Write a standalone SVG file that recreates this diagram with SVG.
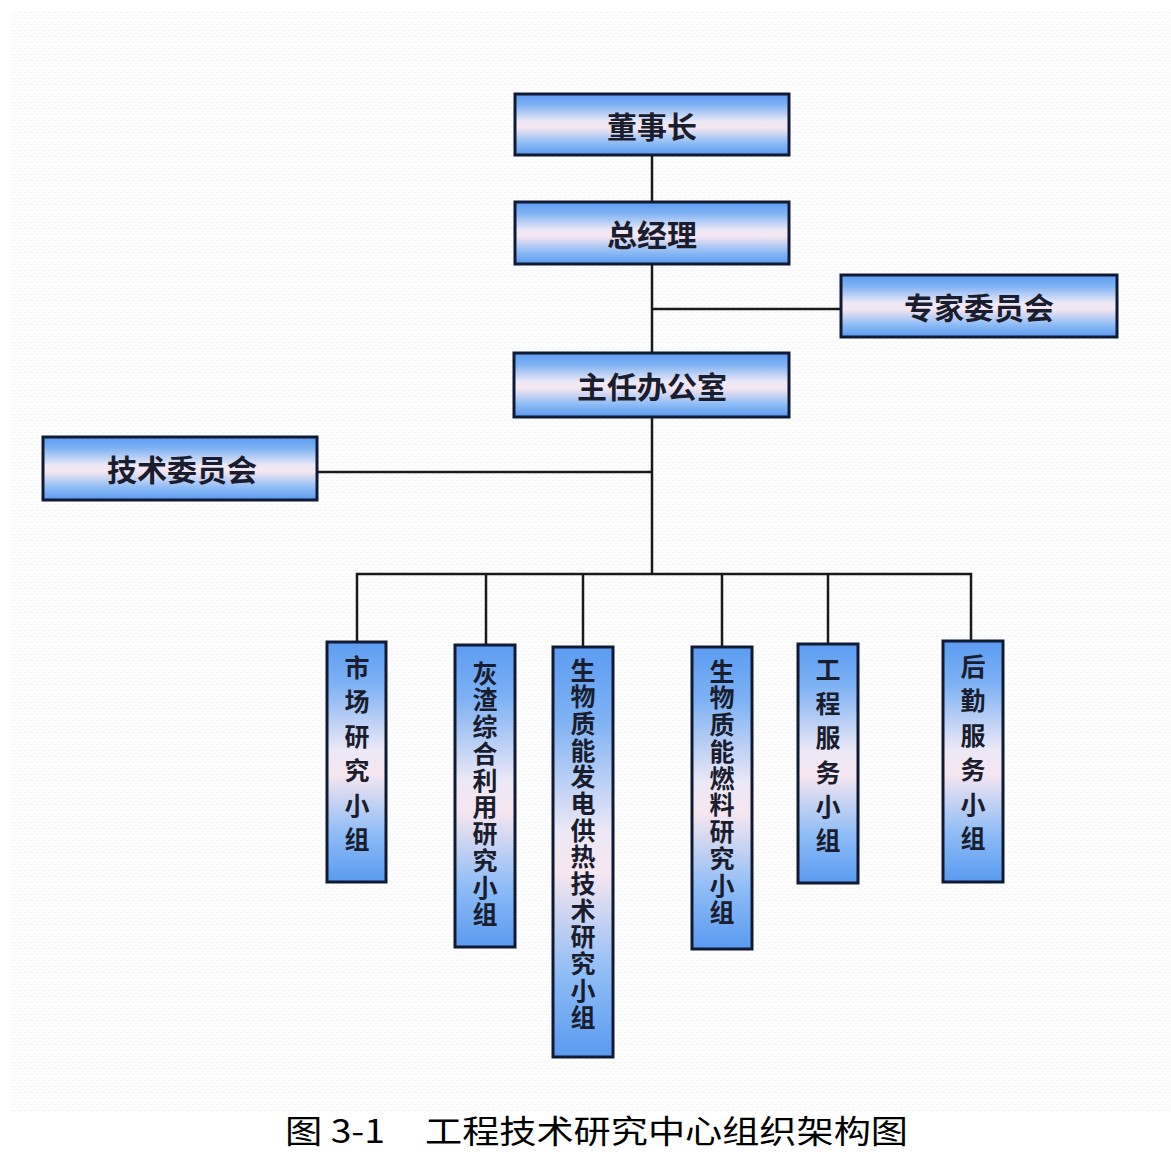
<svg xmlns="http://www.w3.org/2000/svg" width="1171" height="1154" viewBox="0 0 1171 1154">
<defs>
<linearGradient id="gb" x1="0" y1="0" x2="0" y2="1">
<stop offset="0" stop-color="#5c9cf2"/>
<stop offset="0.18" stop-color="#7fb2f4"/>
<stop offset="0.45" stop-color="#ece8f6"/>
<stop offset="0.55" stop-color="#f6e6f0"/>
<stop offset="0.8" stop-color="#8ebcf6"/>
<stop offset="1" stop-color="#5a9af0"/>
</linearGradient>
<pattern id="bg" width="6" height="6" patternUnits="userSpaceOnUse">
<rect width="6" height="6" fill="#fdfdfd"/>
<rect x="0" y="0" width="3" height="1" fill="#f3f3f5"/>
<rect x="3" y="3" width="2" height="1" fill="#f6f6f8"/>
</pattern>
<style>
.box{fill:url(#gb);stroke:#111a33;stroke-width:3}
.lbl{font-family:"Noto Sans CJK SC","Noto Sans",sans-serif;font-weight:700;font-size:30px;fill:#1a1d2e;text-anchor:middle;dominant-baseline:central}
.vl{font-family:"Noto Sans CJK SC","Noto Sans",sans-serif;font-weight:700;font-size:25px;fill:#1a1d2e;writing-mode:vertical-rl;text-orientation:upright;dominant-baseline:central}
.con{stroke:#1a1a1a;stroke-width:2.5;fill:none}
.cap{font-family:"Noto Sans CJK SC","Noto Sans",sans-serif;font-size:32px;fill:#000}
</style>
</defs>
<rect width="1171" height="1154" fill="#ffffff"/>
<rect x="10" y="12" width="1161" height="1100" fill="url(#bg)"/>
<g id="connectors">
<line class="con" x1="652" y1="155" x2="652" y2="202"/>
<line class="con" x1="652" y1="264" x2="652" y2="353"/>
<line class="con" x1="652" y1="309" x2="841" y2="309"/>
<line class="con" x1="652" y1="417" x2="652" y2="574"/>
<line class="con" x1="317" y1="472" x2="652" y2="472"/>
<polyline class="con" points="357,642 357,574 971,574 971,641"/>
<line class="con" x1="486" y1="574" x2="486" y2="645"/>
<line class="con" x1="583" y1="574" x2="583" y2="647"/>
<line class="con" x1="722" y1="574" x2="722" y2="647"/>
<line class="con" x1="828" y1="574" x2="828" y2="644"/>
</g>
<g id="n-chairman">
<rect class="box" x="515" y="94" width="274" height="61"/>
<text class="lbl" x="652" y="125">董事长</text>
</g>
<g id="n-gm">
<rect class="box" x="515" y="202" width="274" height="62"/>
<text class="lbl" x="652" y="233">总经理</text>
</g>
<g id="n-expert">
<rect class="box" x="841" y="275" width="276" height="62"/>
<text class="lbl" x="979" y="306">专家委员会</text>
</g>
<g id="n-office">
<rect class="box" x="514" y="353" width="275" height="64"/>
<text class="lbl" x="652" y="385">主任办公室</text>
</g>
<g id="n-tech">
<rect class="box" x="43" y="437" width="274" height="63"/>
<text class="lbl" x="182" y="468">技术委员会</text>
</g>
<g id="n-market">
<rect class="box" x="327" y="642" width="59" height="240"/>
<text class="vl" x="357" y="654.5" style="letter-spacing:9.6px">市场研究小组</text>
</g>
<g id="n-ash">
<rect class="box" x="455" y="645" width="60" height="302"/>
<text class="vl" x="485" y="660.5" style="letter-spacing:1.8px">灰渣综合利用研究小组</text>
</g>
<g id="n-power">
<rect class="box" x="553" y="647" width="60" height="410"/>
<text class="vl" x="583" y="657.5" style="letter-spacing:1.7px">生物质能发电供热技术研究小组</text>
</g>
<g id="n-fuel">
<rect class="box" x="692" y="647" width="60" height="302"/>
<text class="vl" x="722" y="658.5" style="letter-spacing:1.8px">生物质能燃料研究小组</text>
</g>
<g id="n-eng">
<rect class="box" x="798" y="644" width="60" height="239"/>
<text class="vl" x="828" y="656.5" style="letter-spacing:9.4px">工程服务小组</text>
</g>
<g id="n-logistics">
<rect class="box" x="943" y="641" width="60" height="241"/>
<text class="vl" x="973" y="653.5" style="letter-spacing:9.6px">后勤服务小组</text>
</g>
<g id="caption">
<text class="cap" x="285" y="1143" textLength="100" lengthAdjust="spacingAndGlyphs">图 3-1</text>
<text class="cap" x="425" y="1143" textLength="483" lengthAdjust="spacingAndGlyphs">工程技术研究中心组织架构图</text>
</g>
</svg>
